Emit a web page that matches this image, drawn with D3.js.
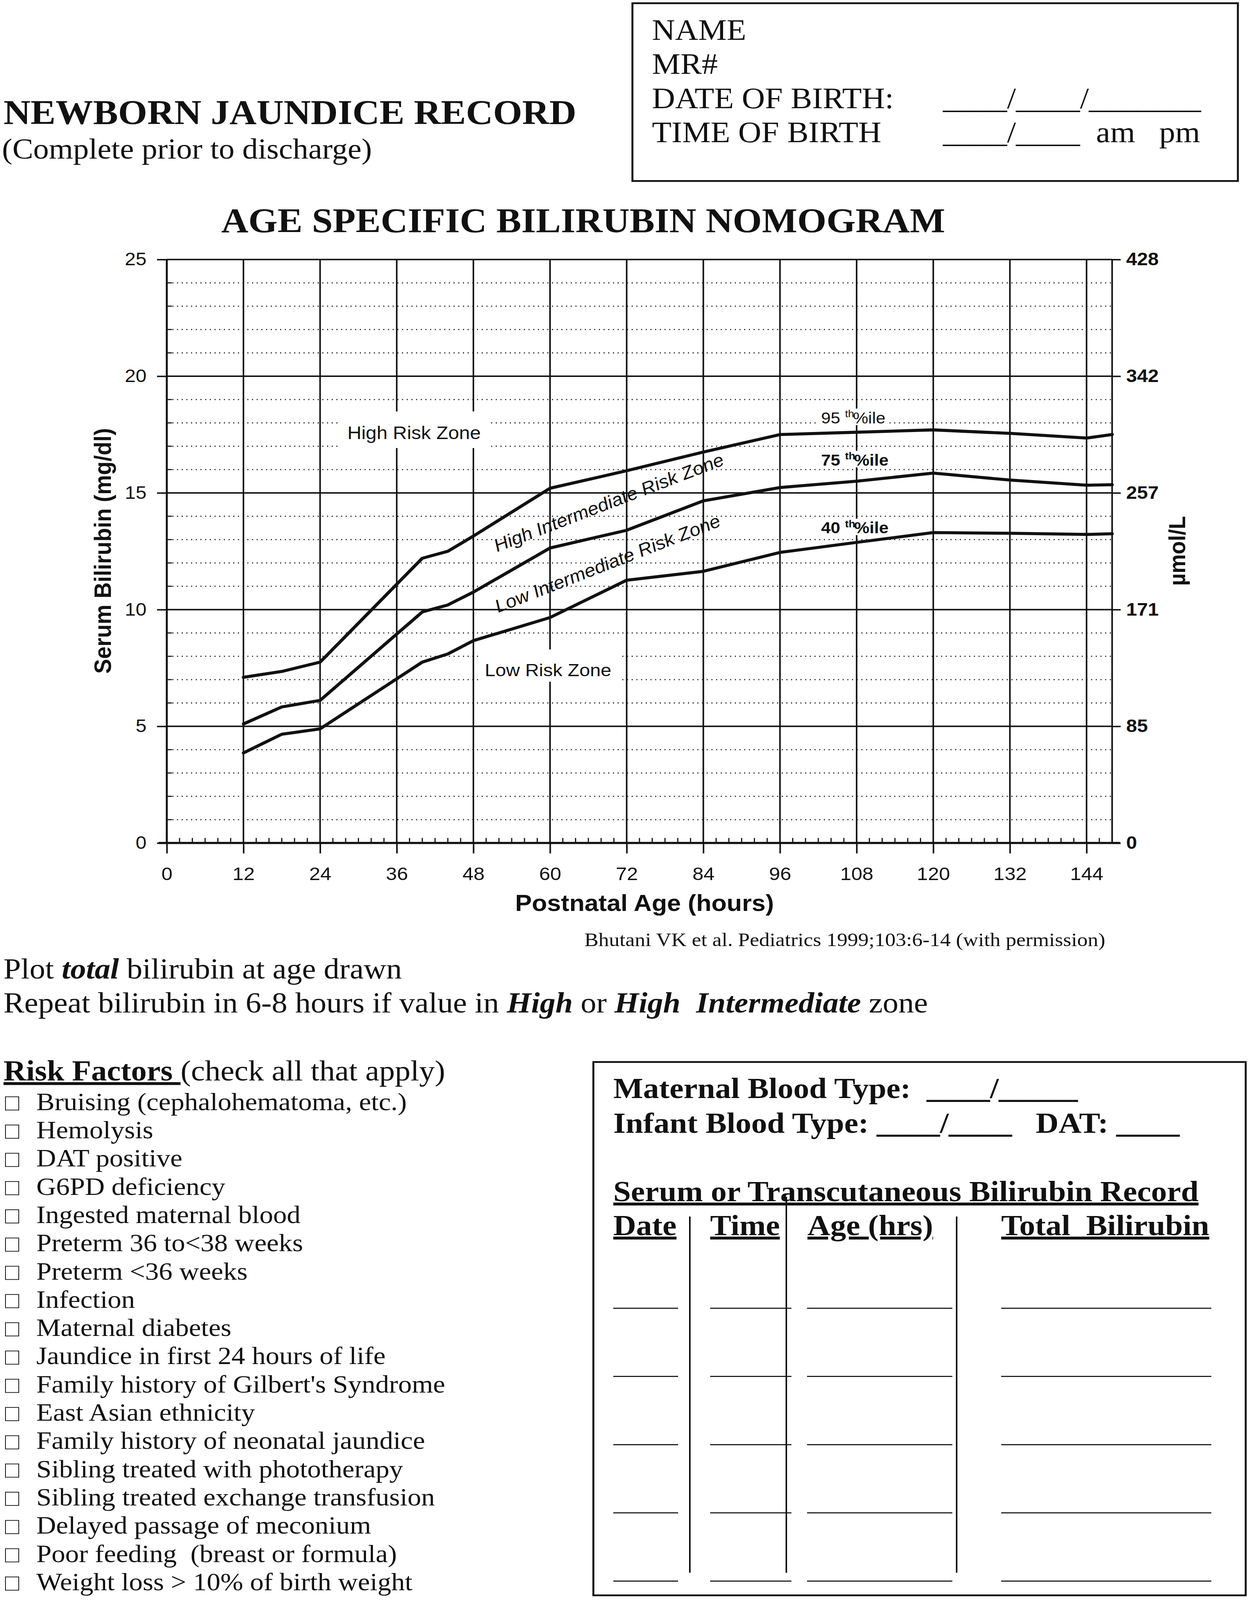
<!DOCTYPE html>
<html>
<head>
<meta charset="utf-8">
<style>
  html, body { margin: 0; padding: 0; background: #fff; overflow: hidden; }
  svg text { fill: #111; }
</style>
<script src="https://d3js.org/d3.v7.min.js"></script>
</head>
<body>
<script>
const W = 3200, H = 4464;
const SANS = "'Liberation Sans', Arial, Helvetica, sans-serif";
const SERIF = "'Liberation Serif', 'Times New Roman', Times, serif";

// nomogram curves: postnatal age (hours) and serum bilirubin (mg/dl)
const hours = [12, 18, 24, 40, 44, 48, 60, 72, 84, 96, 108, 120, 132, 144, 148];
const p95 = [7.1, 7.35, 7.75, 12.2, 12.5, 13.15, 15.2, 15.95, 16.75, 17.5, 17.6, 17.7, 17.55, 17.35, 17.5];
const p75 = [5.1, 5.83, 6.11, 9.9, 10.2, 10.75, 12.64, 13.4, 14.66, 15.23, 15.5, 15.85, 15.55, 15.33, 15.35];
const p40 = [3.86, 4.66, 4.89, 7.75, 8.1, 8.67, 9.66, 11.26, 11.64, 12.45, 12.88, 13.3, 13.27, 13.22, 13.25];

const hourTicks = [0, 12, 24, 36, 48, 60, 72, 84, 96, 108, 120, 132, 144];
const mgTicks = [0, 5, 10, 15, 20, 25];
const umolTicks = ["0", "85", "171", "257", "342", "428"];

const riskFactors = [
  "Bruising (cephalohematoma, etc.)",
  "Hemolysis",
  "DAT positive",
  "G6PD deficiency",
  "Ingested maternal blood",
  "Preterm 36 to<38 weeks",
  "Preterm <36 weeks",
  "Infection",
  "Maternal diabetes",
  "Jaundice in first 24 hours of life",
  "Family history of Gilbert's Syndrome",
  "East Asian ethnicity",
  "Family history of neonatal jaundice",
  "Sibling treated with phototherapy",
  "Sibling treated exchange transfusion",
  "Delayed passage of meconium",
  "Poor feeding  (breast or formula)",
  "Weight loss > 10% of birth weight"
];
const recordCols = ["Date", "Time", "Age (hrs)", "Total  Bilirubin"];
const recordRows = [1, 2, 3, 4, 5];

// the page is laid out on a 3200x4464 sheet and fitted to the window
const svg = d3.select("body").append("svg")
  .attr("viewBox", `0 0 ${W} ${H}`)
  .attr("preserveAspectRatio", "none")
  .attr("width", window.innerWidth || W)
  .attr("height", window.innerHeight || H)
  .style("display", "block");

// ---------- page header ----------
svg.append("text").attr("x", 9).attr("y", 346)
  .style("font-family", SERIF).style("font-size", "96px").style("font-weight", "bold")
  .text("NEWBORN JAUNDICE RECORD");
svg.append("text").attr("x", 5).attr("y", 442)
  .style("font-family", SERIF).style("font-size", "80px")
  .text("(Complete prior to discharge)");

svg.append("rect").attr("x", 1619).attr("y", 9).attr("width", 1550).attr("height", 496)
  .attr("fill", "none").attr("stroke", "#111").attr("stroke-width", 5);

const idLines = [
  ["NAME", ""],
  ["MR#", ""],
  ["DATE OF BIRTH:", "____/____/_______"],
  ["TIME OF BIRTH", "____/____  am   pm"]
];
idLines.forEach((l, i) => {
  const yy = 111 + i * 95.3;
  svg.append("text").attr("x", 1669).attr("y", yy)
    .style("font-family", SERIF).style("font-size", "82px").text(l[0]);
  if (l[1]) svg.append("text").attr("x", 2414).attr("y", yy)
    .style("font-family", SERIF).style("font-size", "82px").style("white-space", "pre").text(l[1]);
});

svg.append("text").attr("x", 1493).attr("y", 647).attr("text-anchor", "middle")
  .style("font-family", SERIF).style("font-size", "96px").style("font-weight", "bold")
  .text("AGE SPECIFIC BILIRUBIN NOMOGRAM");

// ---------- nomogram ----------
const x = d3.scaleLinear().domain([0, 148]).range([427, 2847]);
const y = d3.scaleLinear().domain([0, 25]).range([2352, 724]);

const grid = svg.append("g");
const minorMg = d3.range(1, 25).filter(v => v % 5 !== 0);

grid.selectAll(".dot").data(minorMg).join("line")
  .attr("x1", x(0) + 14).attr("x2", x(148))
  .attr("y1", d => y(d)).attr("y2", d => y(d))
  .attr("stroke", "#222").attr("stroke-width", 3).attr("stroke-dasharray", "3 9");

grid.selectAll(".ltick").data(minorMg).join("line")
  .attr("x1", x(0)).attr("x2", x(0) + 13)
  .attr("y1", d => y(d)).attr("y2", d => y(d))
  .attr("stroke", "#111").attr("stroke-width", 3);

grid.selectAll(".hmaj").data(mgTicks.filter(d => d > 0)).join("line")
  .attr("x1", x(0)).attr("x2", x(148))
  .attr("y1", d => y(d)).attr("y2", d => y(d))
  .attr("stroke", "#111").attr("stroke-width", 4);

grid.selectAll(".vmaj").data(hourTicks).join("line")
  .attr("x1", d => x(d)).attr("x2", d => x(d))
  .attr("y1", y(25)).attr("y2", y(0))
  .attr("stroke", "#111").attr("stroke-width", d => d === 0 ? 5 : 4);

grid.append("line")
  .attr("x1", x(148)).attr("x2", x(148)).attr("y1", y(25)).attr("y2", y(0))
  .attr("stroke", "#111").attr("stroke-width", 4);

grid.selectAll(".btick").data(d3.range(2, 148, 2).filter(h => h % 12 !== 0)).join("line")
  .attr("x1", d => x(d)).attr("x2", d => x(d))
  .attr("y1", y(0)).attr("y2", y(0) - 14)
  .attr("stroke", "#111").attr("stroke-width", 3);

// axes
const leftAxis = svg.append("g").attr("transform", `translate(${x(0)},0)`)
  .call(d3.axisLeft(y).tickValues(mgTicks).tickSize(25).tickPadding(27));
const rightAxis = svg.append("g").attr("transform", `translate(${x(148)},0)`)
  .call(d3.axisRight(y).tickValues(mgTicks).tickSize(22).tickPadding(14)
    .tickFormat((d, i) => umolTicks[i]));
const bottomAxis = svg.append("g").attr("transform", `translate(0,${y(0)})`)
  .call(d3.axisBottom(x).tickValues(hourTicks).tickSize(29).tickPadding(38));

[leftAxis, rightAxis, bottomAxis].forEach(g => {
  g.select(".domain").remove();
  g.selectAll(".tick line").attr("stroke", "#111").attr("stroke-width", 4);
  g.selectAll("text").attr("fill", "#111").style("font-family", SANS);
});
leftAxis.selectAll("text").style("font-size", "50px");
rightAxis.selectAll("text").style("font-size", "50px").style("font-weight", "bold");
bottomAxis.selectAll("text").style("font-size", "51px");

// baseline at zero, a bit heavier
svg.append("line").attr("x1", x(0) - 21).attr("x2", x(148) + 20)
  .attr("y1", y(0)).attr("y2", y(0))
  .attr("stroke", "#111").attr("stroke-width", 6);

// white patches behind the zone labels
const knock = svg.append("g").attr("fill", "#fff");
knock.append("rect").attr("x", 870).attr("y", 1148).attr("width", 378).attr("height", 102);
knock.append("rect").attr("x", 1230).attr("y", 1812).attr("width", 362).attr("height", 90);
knock.append("rect").attr("x", 2095).attr("y", 1140).attr("width", 180).attr("height", 46);
knock.append("rect").attr("x", 2095).attr("y", 1258).attr("width", 190).attr("height", 46);
knock.append("rect").attr("x", 2095).attr("y", 1447).attr("width", 190).attr("height", 46);

// percentile curves
const line = d3.line().x((d, i) => x(hours[i])).y(d => y(d));
svg.selectAll(".curve").data([p95, p75, p40]).join("path")
  .attr("d", line).attr("fill", "none")
  .attr("stroke", "#111").attr("stroke-width", 8.5)
  .attr("stroke-linejoin", "round").attr("stroke-linecap", "round");

// zone labels
svg.append("text").attr("x", 1060).attr("y", 1225).attr("text-anchor", "middle")
  .style("font-family", SANS).style("font-size", "50px").text("High Risk Zone");
svg.append("text").attr("x", 1403).attr("y", 1887).attr("text-anchor", "middle")
  .style("font-family", SANS).style("font-size", "49px").text("Low Risk Zone");
svg.append("text").attr("transform", "translate(1565,1418) rotate(-22.7)").attr("text-anchor", "middle")
  .style("font-family", SANS).style("font-size", "50px").style("font-style", "italic")
  .text("High Intermediate Risk Zone");
svg.append("text").attr("transform", "translate(1562,1588) rotate(-23)").attr("text-anchor", "middle")
  .style("font-family", SANS).style("font-size", "50px").style("font-style", "italic")
  .text("Low Intermediate Risk Zone");

[["95", 1181, "normal"], ["75", 1299, "bold"], ["40", 1488, "bold"]].forEach(p => {
  const t = svg.append("text").attr("x", 2102).attr("y", p[1])
    .style("font-family", SANS).style("font-size", "44px").style("font-weight", p[2])
    .style("white-space", "pre");
  t.append("tspan").text(p[0] + " ");
  t.append("tspan").attr("dy", -17).style("font-size", "28px").text("th");
  t.append("tspan").attr("dy", 17).attr("dx", -3).text("%ile");
});

// axis titles
svg.append("text").attr("transform", "translate(284,1537) rotate(-90)").attr("text-anchor", "middle")
  .style("font-family", SANS).style("font-size", "62px").style("font-weight", "bold")
  .text("Serum Bilirubin (mg/dl)");
svg.append("text").attr("transform", "translate(3034,1537) rotate(-90)").attr("text-anchor", "middle")
  .style("font-family", SANS).style("font-size", "60px").style("font-weight", "bold")
  .text("µmol/L");
svg.append("text").attr("x", 1650).attr("y", 2541).attr("text-anchor", "middle")
  .style("font-family", SANS).style("font-size", "64px").style("font-weight", "bold")
  .text("Postnatal Age (hours)");

svg.append("text").attr("x", 1496).attr("y", 2640)
  .style("font-family", SERIF).style("font-size", "54px")
  .text("Bhutani VK et al. Pediatrics 1999;103:6-14 (with permission)");

// ---------- instructions ----------
const ins1 = svg.append("text").attr("x", 9).attr("y", 2730)
  .style("font-family", SERIF).style("font-size", "80px").style("white-space", "pre");
ins1.append("tspan").text("Plot ");
ins1.append("tspan").style("font-weight", "bold").style("font-style", "italic").text("total");
ins1.append("tspan").text(" bilirubin at age drawn");

const ins2 = svg.append("text").attr("x", 9).attr("y", 2825)
  .style("font-family", SERIF).style("font-size", "80px").style("white-space", "pre");
ins2.append("tspan").text("Repeat bilirubin in 6-8 hours if value in ");
ins2.append("tspan").style("font-weight", "bold").style("font-style", "italic").text("High");
ins2.append("tspan").text(" or ");
ins2.append("tspan").style("font-weight", "bold").style("font-style", "italic").text("High  Intermediate");
ins2.append("tspan").text(" zone");

// ---------- risk factors ----------
const rf = svg.append("text").attr("x", 9).attr("y", 3015)
  .style("font-family", SERIF).style("font-size", "80px").style("white-space", "pre");
rf.append("tspan").style("font-weight", "bold").style("text-decoration", "underline").text("Risk Factors ");
rf.append("tspan").text("(check all that apply)");

const items = svg.append("g").selectAll("g").data(riskFactors).join("g")
  .attr("transform", (d, i) => `translate(0,${3097 + i * 78.8})`);
items.append("rect").attr("x", 14).attr("y", -37).attr("width", 34).attr("height", 37)
  .attr("fill", "none").attr("stroke", "#111").attr("stroke-width", 2);
items.append("text").attr("x", 93).attr("y", 0)
  .style("font-family", SERIF).style("font-size", "70px").style("white-space", "pre")
  .text(d => d);

// ---------- blood type / bilirubin record ----------
svg.append("rect").attr("x", 1519).attr("y", 2963).attr("width", 1670).attr("height", 1488)
  .attr("fill", "none").attr("stroke", "#111").attr("stroke-width", 5);

const bold80 = sel => sel.style("font-family", SERIF).style("font-size", "81px")
  .style("font-weight", "bold").style("white-space", "pre");
svg.append("text").attr("x", 1570).attr("y", 3064).call(bold80).text("Maternal Blood Type:  ____/_____");
svg.append("text").attr("x", 1570).attr("y", 3161).call(bold80).text("Infant Blood Type: ____/____   DAT: ____");
svg.append("text").attr("x", 1570).attr("y", 3351).call(bold80)
  .style("text-decoration", "underline").text("Serum or Transcutaneous Bilirubin Record");

const colX = [1570, 1818, 2067, 2563];
const colSpan = [[1570, 1736], [1818, 2026], [2066, 2438], [2563, 3101]];
svg.selectAll(".colhead").data(recordCols).join("text")
  .attr("x", (d, i) => colX[i]).attr("y", 3446).call(bold80)
  .style("text-decoration", "underline").text(d => d);

const rows = svg.append("g").selectAll("g").data(recordRows).join("g")
  .attr("transform", (d, i) => `translate(0,${3650 + i * 190.3})`);
colSpan.forEach(c => {
  rows.append("line").attr("x1", c[0]).attr("x2", c[1]).attr("y1", 0).attr("y2", 0)
    .attr("stroke", "#111").attr("stroke-width", 3);
});

[[1766, 3394], [2013, 3339], [2449, 3394]].forEach(v => {
  svg.append("line").attr("x1", v[0]).attr("x2", v[0]).attr("y1", v[1]).attr("y2", 4388)
    .attr("stroke", "#111").attr("stroke-width", 4);
});
</script>
</body>
</html>
